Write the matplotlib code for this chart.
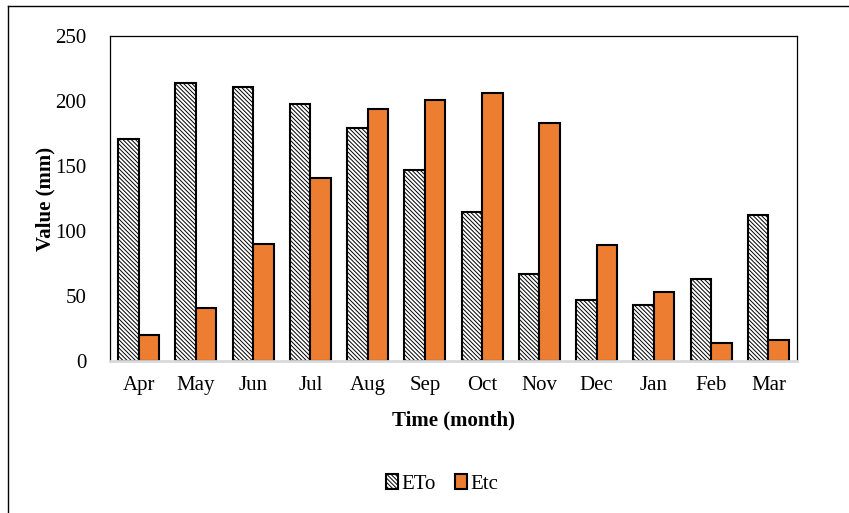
import numpy as np
import matplotlib
matplotlib.use('Agg')
from matplotlib import pyplot as plt
from matplotlib.lines import Line2D

plt.rcParams['font.family'] = ['Liberation Serif', 'DejaVu Serif']
plt.rcParams['hatch.linewidth'] = 0.7

months = ['Apr', 'May', 'Jun', 'Jul', 'Aug', 'Sep', 'Oct', 'Nov', 'Dec', 'Jan', 'Feb', 'Mar']
eto = [171, 214, 211, 198, 179, 147, 115, 67, 47, 43, 63, 112]
etc = [20, 41, 90, 141, 194, 201, 206, 183, 89, 53, 14, 16]

fig = plt.figure(figsize=(8.49, 5.13), dpi=100)
ax = fig.add_axes([110 / 849, 1 - 361 / 513, 687 / 849, 325 / 513])

x = np.arange(len(months))
w = 0.36
ax.bar(x - w / 2, eto, w, color='white', edgecolor='black', hatch='\\\\\\\\\\\\\\\\', linewidth=1.5, label='ETo')
ax.bar(x + w / 2, etc, w, color='#ED7D31', edgecolor='black', linewidth=1.5, label='Etc')

ax.set_xlim(-0.5, len(months) - 0.5)
ax.set_ylim(0, 250)
ax.set_yticks(range(0, 251, 50))
ax.set_xticks(x)
ax.set_xticklabels(months)
ax.tick_params(axis='both', length=0, labelsize=15)
ax.tick_params(axis='x', pad=11)
ax.tick_params(axis='y', pad=17)

for s in ['top', 'left', 'right']:
    ax.spines[s].set_linewidth(0.9)
    ax.spines[s].set_color('black')
ax.spines['bottom'].set_color('#d9d9d9')
ax.spines['bottom'].set_linewidth(2)

ax.set_xlabel('Time (month)', fontsize=15, fontweight='bold', labelpad=11)
ax.set_ylabel('Value (mm)', fontsize=15, fontweight='bold', labelpad=0)

ax.legend(loc='center', bbox_to_anchor=(442 / 849, 1 - 484 / 513), bbox_transform=fig.transFigure,
          ncol=2, frameon=False, fontsize=15, handlelength=0.6, handleheight=0.7,
          handletextpad=0.15, columnspacing=0.9)

# outer chart border (clipped on right and bottom in the original)
fig.add_artist(Line2D([8 / 849, 8 / 849], [0, 1 - 6 / 513], color='black', linewidth=1, transform=fig.transFigure))
fig.add_artist(Line2D([8 / 849, 1], [1 - 6 / 513, 1 - 6 / 513], color='black', linewidth=1, transform=fig.transFigure))

plt.savefig('out.png', dpi=100)
